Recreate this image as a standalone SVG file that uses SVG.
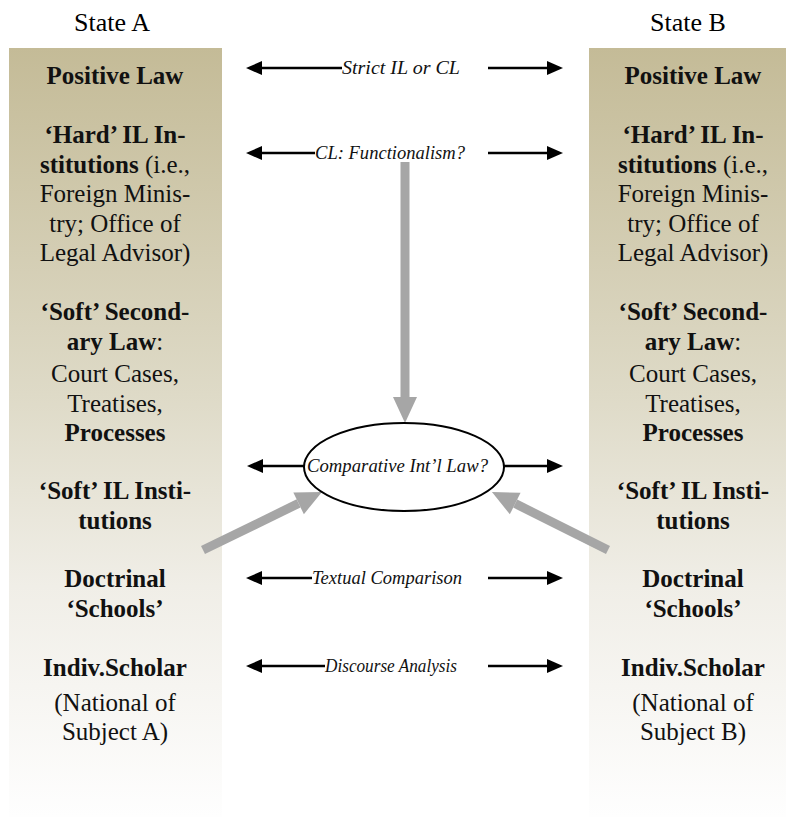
<svg xmlns="http://www.w3.org/2000/svg" width="788" height="819" viewBox="0 0 788 819" font-family="'Liberation Serif','Times New Roman','DejaVu Serif',serif">
<style>
text{font-family:'Liberation Serif','Times New Roman','DejaVu Serif',serif}
.hd{font-size:26px;fill:#000;text-anchor:middle}
.t text{font-size:25px;fill:#111;text-anchor:middle}
.b{font-weight:bold}
.lab{font-size:19px;font-style:italic;fill:#111}
.blk{stroke:#000;stroke-width:2.5;fill:none}
.gry{stroke:#a6a6a6;stroke-width:9;fill:none}
</style>
<defs>
<linearGradient id="colg" x1="0" y1="0" x2="0" y2="1">
<stop offset="0" stop-color="#c4bb97"/>
<stop offset="0.45" stop-color="#dedac7"/>
<stop offset="0.7" stop-color="#f0eee7"/>
<stop offset="1" stop-color="#fefefe"/>
</linearGradient>
<marker id="ah" markerUnits="userSpaceOnUse" markerWidth="16" markerHeight="14" refX="0" refY="7" orient="auto" overflow="visible">
<path d="M0,0 L16,7 L0,14 z" fill="#000"/>
</marker>
<marker id="gh" markerUnits="userSpaceOnUse" markerWidth="26" markerHeight="24" refX="0" refY="12" orient="auto" overflow="visible">
<path d="M0,0 L26,12 L0,24 z" fill="#a6a6a6"/>
</marker>
</defs>
<rect width="788" height="819" fill="#fff"/>

<g id="stateA">
<text class="hd" x="112" y="31">State A</text>
<rect x="9" y="48" width="213" height="769" fill="url(#colg)"/>
<g class="t">
<text x="115" y="84" class="b">Positive Law</text>
<text x="115" y="143" class="b">‘Hard’ IL In-</text>
<text x="115" y="172.5"><tspan class="b">stitutions</tspan> (i.e.,</text>
<text x="115" y="202">Foreign Minis-</text>
<text x="115" y="231.5">try; Office of</text>
<text x="115" y="261">Legal Advisor)</text>
<text x="115" y="320" class="b">‘Soft’ Second-</text>
<text x="115" y="349.5"><tspan class="b">ary Law</tspan>:</text>
<text x="115" y="382">Court Cases,</text>
<text x="115" y="411.5">Treatises,</text>
<text x="115" y="441" class="b">Processes</text>
<text x="115" y="499" class="b">‘Soft’ IL Insti-</text>
<text x="115" y="528.5" class="b">tutions</text>
<text x="115" y="587" class="b">Doctrinal</text>
<text x="115" y="616.5" class="b">‘Schools’</text>
<text x="115" y="676" class="b">Indiv.Scholar</text>
<text x="115" y="711">(National of</text>
<text x="115" y="740">Subject A)</text>
</g>
</g>

<g id="stateB">
<text class="hd" x="688" y="31">State B</text>
<rect x="589" y="48" width="197" height="769" fill="url(#colg)"/>
<g class="t">
<text x="693" y="84" class="b">Positive Law</text>
<text x="693" y="143" class="b">‘Hard’ IL In-</text>
<text x="693" y="172.5"><tspan class="b">stitutions</tspan> (i.e.,</text>
<text x="693" y="202">Foreign Minis-</text>
<text x="693" y="231.5">try; Office of</text>
<text x="693" y="261">Legal Advisor)</text>
<text x="693" y="320" class="b">‘Soft’ Second-</text>
<text x="693" y="349.5"><tspan class="b">ary Law</tspan>:</text>
<text x="693" y="382">Court Cases,</text>
<text x="693" y="411.5">Treatises,</text>
<text x="693" y="441" class="b">Processes</text>
<text x="693" y="499" class="b">‘Soft’ IL Insti-</text>
<text x="693" y="528.5" class="b">tutions</text>
<text x="693" y="587" class="b">Doctrinal</text>
<text x="693" y="616.5" class="b">‘Schools’</text>
<text x="693" y="676" class="b">Indiv.Scholar</text>
<text x="693" y="711">(National of</text>
<text x="693" y="740">Subject B)</text>
</g>
</g>

<g id="connectors">
<line class="blk" x1="342" y1="68" x2="262" y2="68" marker-end="url(#ah)"/>
<line class="blk" x1="488" y1="68" x2="547" y2="68" marker-end="url(#ah)"/>
<line class="blk" x1="315" y1="153" x2="262" y2="153" marker-end="url(#ah)"/>
<line class="blk" x1="488" y1="153" x2="547" y2="153" marker-end="url(#ah)"/>
<line class="blk" x1="305" y1="466" x2="263" y2="466" marker-end="url(#ah)"/>
<line class="blk" x1="503" y1="466" x2="547" y2="466" marker-end="url(#ah)"/>
<line class="blk" x1="312" y1="578" x2="262" y2="578" marker-end="url(#ah)"/>
<line class="blk" x1="488" y1="578" x2="547" y2="578" marker-end="url(#ah)"/>
<line class="blk" x1="325" y1="666" x2="262" y2="666" marker-end="url(#ah)"/>
<line class="blk" x1="488" y1="666" x2="547" y2="666" marker-end="url(#ah)"/>
<line class="gry" x1="405" y1="162" x2="405" y2="397" marker-end="url(#gh)"/>
<line class="gry" x1="203" y1="550" x2="298.6" y2="503.4" marker-end="url(#gh)"/>
<line class="gry" x1="608" y1="550" x2="515.2" y2="503.6" marker-end="url(#gh)"/>
</g>

<g id="comparative">
<ellipse cx="404" cy="467" rx="100" ry="44" fill="#fff" stroke="#000" stroke-width="2"/>
<text class="lab" x="307" y="472" textLength="181" lengthAdjust="spacingAndGlyphs">Comparative Int’l Law?</text>
</g>

<g id="labels">
<text class="lab" x="342" y="74" textLength="118" lengthAdjust="spacingAndGlyphs">Strict IL or CL</text>
<text class="lab" x="315" y="159" textLength="150" lengthAdjust="spacingAndGlyphs">CL: Functionalism?</text>
<text class="lab" x="312" y="584" textLength="150" lengthAdjust="spacingAndGlyphs">Textual Comparison</text>
<text class="lab" x="325" y="672" textLength="132" lengthAdjust="spacingAndGlyphs">Discourse Analysis</text>
</g>
</svg>
